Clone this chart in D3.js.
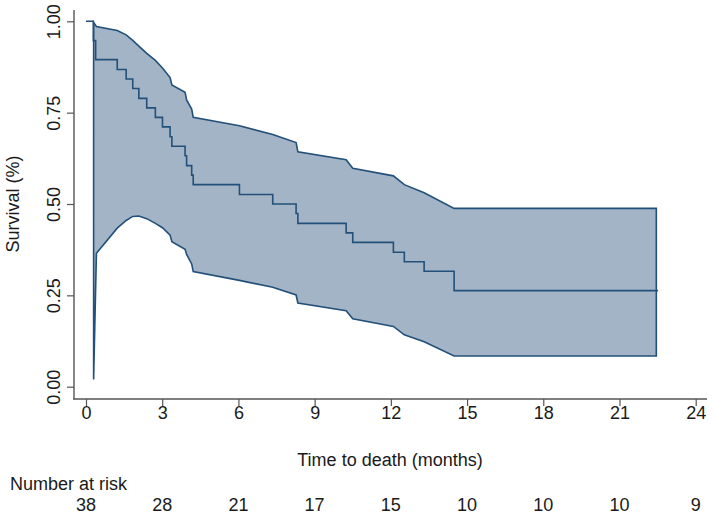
<!DOCTYPE html>
<html>
<head>
<meta charset="utf-8">
<script src="https://cdn.jsdelivr.net/npm/d3@7"></script>
<style>
  html, body { margin: 0; padding: 0; background: #ffffff; }
  svg { display: block; }
  text { font-family: "Liberation Sans", Arial, sans-serif; fill: #1a1a1a; }
</style>
</head>
<body>
<svg id="chart" width="713" height="519"></svg>
<script>
// Kaplan-Meier step curve (time in months, survival after each event)
const kmTimes = [0, 0.29, 0.38, 1.23, 1.58, 1.84, 2.08, 2.39, 2.73, 3.01, 3.31, 3.38, 3.90, 3.96, 4.16, 4.22, 6.04, 7.35, 8.27, 8.34, 10.24, 10.50, 12.10, 12.53, 13.31, 14.49, 22.52];
const kmSurv  = [1.000, 0.947, 0.895, 0.868, 0.842, 0.816, 0.789, 0.763, 0.737, 0.711, 0.684, 0.658, 0.632, 0.605, 0.579, 0.553, 0.526, 0.500, 0.474, 0.447, 0.421, 0.395, 0.368, 0.342, 0.316, 0.263, 0.263];

// Confidence band
const ciTimes = [0.30, 0.41, 1.23, 1.58, 1.84, 2.08, 2.39, 2.73, 3.01, 3.31, 3.38, 3.90, 3.96, 4.16, 4.22, 6.04, 7.35, 8.27, 8.34, 10.24, 10.50, 12.10, 12.53, 13.31, 14.49, 22.45];
const ciUpper = [0.997, 0.986, 0.975, 0.963, 0.948, 0.932, 0.912, 0.893, 0.872, 0.846, 0.826, 0.806, 0.785, 0.760, 0.737, 0.714, 0.690, 0.668, 0.643, 0.621, 0.598, 0.577, 0.553, 0.531, 0.488, 0.488];
const ciLower = [0.020, 0.365, 0.434, 0.455, 0.466, 0.467, 0.460, 0.447, 0.435, 0.415, 0.397, 0.376, 0.362, 0.336, 0.315, 0.291, 0.272, 0.251, 0.229, 0.208, 0.186, 0.165, 0.142, 0.123, 0.084, 0.084];

// Axis ticks and number-at-risk table
const xTicks = [0, 3, 6, 9, 12, 15, 18, 21, 24];
const yTicks = [0, 0.25, 0.5, 0.75, 1];
const atRisk = [38, 28, 21, 17, 15, 10, 10, 10, 9];

const xTitle = "Time to death (months)";
const yTitle = "Survival (%)";
const riskTitle = "Number at risk";

const svg = d3.select("#chart");
const x = d3.scaleLinear().domain([0, 24]).range([86, 695.7]);
const y = d3.scaleLinear().domain([0, 1]).range([386.7, 21.3]);

const lineColor = "#22507a";
const fillColor = "#a3b4c6";
const axisColor = "#555555";

// Confidence band
const band = ciTimes.map((t, i) => ({t, lo: ciLower[i], hi: ciUpper[i]}));
const area = d3.area()
  .x(d => x(d.t))
  .y0(d => y(d.lo))
  .y1(d => y(d.hi))
  .curve(d3.curveLinear);
svg.append("path")
  .datum(band)
  .attr("d", area)
  .attr("fill", fillColor)
  .attr("stroke", lineColor)
  .attr("stroke-width", 1.6)
  .attr("stroke-linejoin", "miter");

// KM curve
const km = kmTimes.map((t, i) => ({t, s: kmSurv[i]}));
const line = d3.line()
  .x(d => x(d.t))
  .y(d => y(d.s))
  .curve(d3.curveStepAfter);
svg.append("path")
  .datum(km)
  .attr("d", line)
  .attr("fill", "none")
  .attr("stroke", lineColor)
  .attr("stroke-width", 1.6);

// Y axis
const yAxis = d3.axisLeft(y)
  .tickValues(yTicks)
  .tickFormat(d3.format(".2f"))
  .tickSizeInner(7)
  .tickSizeOuter(0);
const gy = svg.append("g").attr("transform", "translate(74,0)").call(yAxis);
gy.select(".domain").remove();
gy.selectAll(".tick line").attr("stroke", axisColor).attr("stroke-width", 1.2);
gy.selectAll(".tick text")
  .attr("transform", "rotate(-90)")
  .attr("x", 0)
  .attr("y", -14)
  .attr("dy", 0)
  .attr("text-anchor", "middle")
  .style("font-size", "18px")
  .style("font-family", "'Liberation Sans', Arial, sans-serif")
  .attr("fill", "#1a1a1a");
svg.append("line")
  .attr("x1", 74).attr("x2", 74).attr("y1", 10).attr("y2", 399.6)
  .attr("stroke", axisColor).attr("stroke-width", 1.4);

// X axis
const xAxis = d3.axisBottom(x)
  .tickValues(xTicks)
  .tickFormat(d3.format("d"))
  .tickSizeInner(7)
  .tickSizeOuter(0);
const gx = svg.append("g").attr("transform", "translate(0,399)").call(xAxis);
gx.select(".domain").remove();
gx.selectAll(".tick line").attr("stroke", axisColor).attr("stroke-width", 1.2);
gx.selectAll(".tick text")
  .attr("y", 20)
  .attr("dy", 0)
  .style("font-size", "18px")
  .style("font-family", "'Liberation Sans', Arial, sans-serif")
  .attr("fill", "#1a1a1a");
svg.append("line")
  .attr("x1", 73.3).attr("x2", 707).attr("y1", 399).attr("y2", 399)
  .attr("stroke", axisColor).attr("stroke-width", 1.4);

// Titles
svg.append("text")
  .attr("x", 390).attr("y", 466)
  .attr("text-anchor", "middle")
  .style("font-size", "18px")
  .text(xTitle);
svg.append("text")
  .attr("transform", "translate(19,204) rotate(-90)")
  .attr("text-anchor", "middle")
  .style("font-size", "18px")
  .text(yTitle);

// Number at risk
svg.append("text")
  .attr("x", 10).attr("y", 490)
  .style("font-size", "18px")
  .text(riskTitle);
svg.append("g").selectAll("text")
  .data(xTicks)
  .join("text")
  .attr("x", d => x(d))
  .attr("y", 511)
  .attr("text-anchor", "middle")
  .style("font-size", "18px")
  .text((d, i) => atRisk[i]);
</script>
</body>
</html>
